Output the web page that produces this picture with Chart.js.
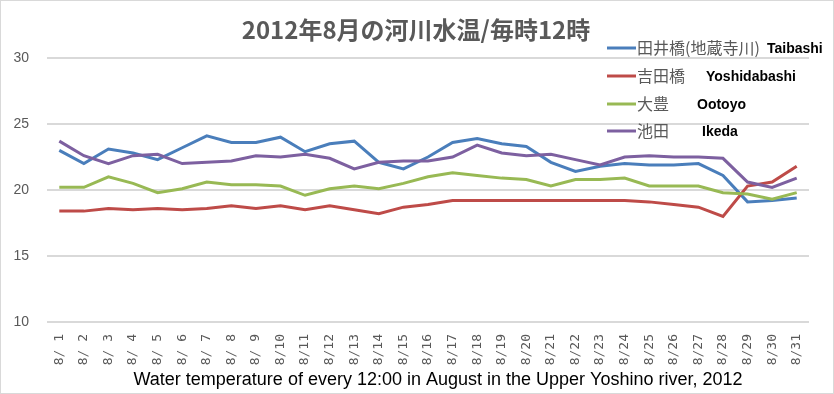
<!DOCTYPE html>
<html>
<head>
<meta charset="UTF-8">
<title>2012年8月の河川水温</title>
<script src="https://cdn.jsdelivr.net/npm/chart.js@4/dist/chart.umd.min.js"></script>
<style>
body { margin: 0; background: #fff; }
</style>
</head>
<body>
<canvas id="chart" width="834" height="394"></canvas>
<script>
var days = ['8/ 1','8/ 2','8/ 3','8/ 4','8/ 5','8/ 6','8/ 7','8/ 8','8/ 9','8/10',
  '8/11','8/12','8/13','8/14','8/15','8/16','8/17','8/18','8/19','8/20',
  '8/21','8/22','8/23','8/24','8/25','8/26','8/27','8/28','8/29','8/30','8/31'];

var taibashi = [23.0,22.0,23.1,22.8,22.3,23.2,24.1,23.6,23.6,24.0,22.9,23.5,23.7,22.1,21.6,22.5,
  23.6,23.9,23.5,23.3,22.1,21.4,21.8,22.0,21.9,21.9,22.0,21.1,19.1,19.2,19.4];
var yoshidabashi = [18.4,18.4,18.6,18.5,18.6,18.5,18.6,18.8,18.6,18.8,18.5,18.8,18.5,18.2,18.7,18.9,
  19.2,19.2,19.2,19.2,19.2,19.2,19.2,19.2,19.1,18.9,18.7,18.0,20.3,20.6,21.8];
var ootoyo = [20.2,20.2,21.0,20.5,19.8,20.1,20.6,20.4,20.4,20.3,19.6,20.1,20.3,20.1,20.5,21.0,
  21.3,21.1,20.9,20.8,20.3,20.8,20.8,20.9,20.3,20.3,20.3,19.8,19.7,19.3,19.8];
var ikeda = [23.7,22.6,22.0,22.6,22.7,22.0,22.1,22.2,22.6,22.5,22.7,22.4,21.6,22.1,22.2,22.2,
  22.5,23.4,22.8,22.6,22.7,22.3,21.9,22.5,22.6,22.5,22.5,22.4,20.6,20.2,20.9];

var namesJa = ['田井橋(地蔵寺川)', '吉田橋', '大豊', '池田'];
var namesEn = ['Taibashi', 'Yoshidabashi', 'Ootoyo', 'Ikeda'];
var colors = ['#4a7ebb', '#be4b48', '#98b954', '#7d60a0'];

var yTicks = [10, 15, 20, 25, 30];

var chartTitle = '2012年8月の河川水温/毎時12時';
var xTitle = 'Water temperature of every 12:00 in August in the Upper Yoshino river, 2012';

var seriesData = [taibashi, yoshidabashi, ootoyo, ikeda];
var datasets = [];
for (var i = 0; i < seriesData.length; i++) {
  datasets.push({
    label: namesJa[i] + ' ' + namesEn[i],
    data: seriesData[i],
    borderColor: colors[i],
    backgroundColor: colors[i],
    borderWidth: 3,
    pointRadius: 0,
    tension: 0,
    order: seriesData.length - i
  });
}

// titles + legend drawn by hand so they sit where the original has them
var textPlugin = {
  id: 'texts',
  afterDraw: function(chart) {
    var ctx = chart.ctx;
    ctx.save();
    ctx.textAlign = 'center';
    ctx.textBaseline = 'middle';
    ctx.fillStyle = '#595959';
    ctx.font = 'bold 24px "Noto Sans CJK JP"';
    ctx.fillText(chartTitle, 416, 30);
    ctx.fillStyle = '#000';
    ctx.font = '18px "Liberation Sans"';
    ctx.fillText(xTitle, 438, 380);

    ctx.textAlign = 'left';
    var rowsY = [48, 76, 104, 131];
    var enX = [767, 706, 697, 702];
    for (var i = 0; i < namesJa.length; i++) {
      var y = rowsY[i];
      ctx.strokeStyle = colors[i];
      ctx.lineWidth = 3;
      ctx.beginPath();
      ctx.moveTo(607, y);
      ctx.lineTo(636, y);
      ctx.stroke();
      ctx.fillStyle = '#595959';
      ctx.font = '16px "Noto Sans CJK JP"';
      ctx.fillText(namesJa[i], 637, y);
      ctx.fillStyle = '#000';
      ctx.font = 'bold 14px "Liberation Sans"';
      ctx.fillText(namesEn[i], enX[i], y + 1);
    }
    ctx.restore();
  }
};

var framePlugin = {
  id: 'frame',
  beforeDraw: function(chart) {
    var ctx = chart.ctx;
    ctx.save();
    ctx.fillStyle = '#fff';
    ctx.fillRect(0, 0, chart.width, chart.height);
    ctx.strokeStyle = '#d9d9d9';
    ctx.lineWidth = 1;
    ctx.strokeRect(0.5, 0.5, chart.width - 1, chart.height - 1);
    ctx.restore();
  }
};

new Chart(document.getElementById('chart'), {
  type: 'line',
  data: { labels: days, datasets: datasets },
  options: {
    responsive: false,
    animation: false,
    devicePixelRatio: 1,
    layout: { padding: { left: 0, right: 25, top: 58, bottom: 0 } },
    plugins: {
      legend: { display: false },
      tooltip: { enabled: false },
      title: { display: false }
    },
    scales: {
      x: {
        offset: true,
        grid: { display: false },
        border: { display: false },
        ticks: {
          autoSkip: false,
          minRotation: 90,
          maxRotation: 90,
          padding: 4,
          color: '#595959',
          font: { family: '"DejaVu Sans Mono"', size: 13 }
        },
        afterFit: function(scale) { scale.height = 72; }
      },
      y: {
        min: 10,
        max: 30,
        border: { display: false },
        grid: { color: '#d9d9d9', lineWidth: 2, drawTicks: false },
        afterBuildTicks: function(scale) {
          scale.ticks = yTicks.map(function(v) { return { value: v }; });
        },
        ticks: {
          padding: 18,
          color: '#595959',
          font: { family: '"Liberation Sans"', size: 14 }
        },
        afterFit: function(scale) { scale.width = 47; }
      }
    }
  },
  plugins: [framePlugin, textPlugin]
});
</script>
</body>
</html>
